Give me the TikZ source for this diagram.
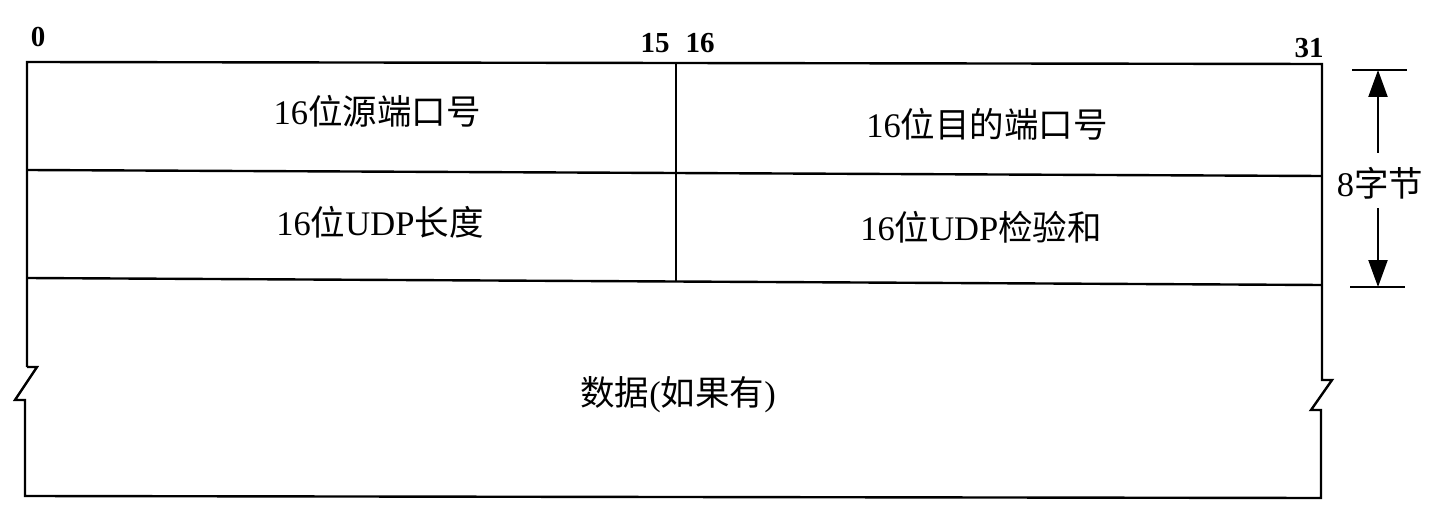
\documentclass[tikz,border=0pt]{standalone}
\usepackage{fontspec}
\setmainfont{Liberation Serif}
\newfontfamily\cjk{Noto Sans CJK SC}
\usetikzlibrary{arrows.meta}
\newcommand{\zh}[1]{{\cjk #1}}
\begin{document}
\begin{tikzpicture}[x=1pt,y=-1pt,
  frame/.style={line width=2.4pt,line join=miter},
  field/.style={font=\fontsize{34.5}{36}\selectfont,inner sep=0pt},
  bitnum/.style={font=\fontsize{29}{30}\selectfont\bfseries,inner sep=0pt},
  dim/.style={line width=2.2pt},
  dimarrow/.style={line width=2.2pt,-{Triangle[length=27pt,width=19pt]}}]
\useasboundingbox (0,0) rectangle (1430,516);
% outer frame with break marks
\draw[frame] (27,367) -- (27,62) -- (1322,64) -- (1322,380) -- (1332,380) -- (1311,410) -- (1321,410) -- (1321,498) -- (25,496) -- (25,400) -- (15,400) -- (37,367) -- (27,367);
% row separators
\draw[frame] (27,170) -- (1322,176);
\draw[frame] (27,278) -- (1322,285);
% middle divider
\draw[frame] (676,63) -- (676,281);
% bit numbers
\node[bitnum] (b0) at (38,37) {0};
\node[bitnum] (b15) at (655,43) {15};
\node[bitnum] (b16) at (700,43) {16};
\node[bitnum] (b31) at (1309,48) {31};
% fields
\node[field] (src) at (377,111) {16\zh{位源端口号}};
\node[field] (dst) at (987,124) {16\zh{位目的端口号}};
\node[field] (len) at (380,222) {16\zh{位}UDP\zh{长度}};
\node[field] (sum) at (981,227) {16\zh{位}UDP\zh{检验和}};
\node[field] (data) at (678,395) {\zh{数据}(\zh{如果有})};
% dimension
\coordinate (tt) at (1378,70);
\coordinate (bb) at (1378,287);
\draw[dim] (1352,70) -- (1407,70);
\draw[dim] (1350,287) -- (1405,287);
\node[field] (len8) at (1380,183) {8\zh{字节}};
\draw[dimarrow] (1378,153) -- (tt);
\draw[dimarrow] (1378,208) -- (bb);
\end{tikzpicture}
\end{document}
